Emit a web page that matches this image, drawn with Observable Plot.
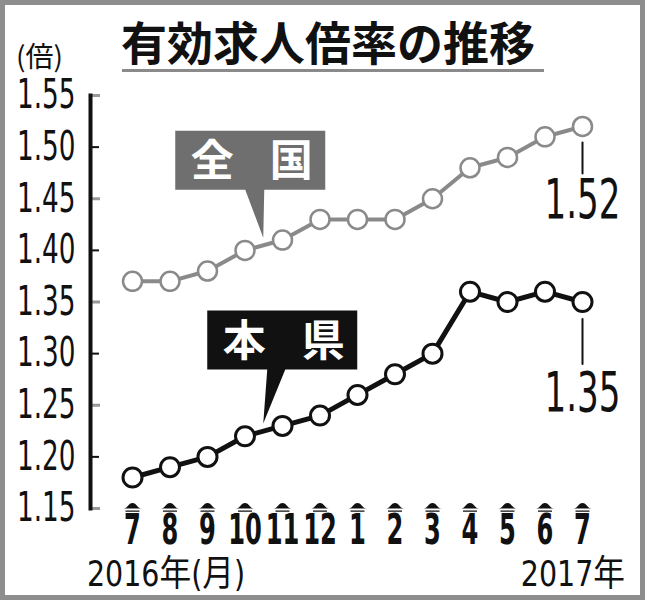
<!DOCTYPE html>
<html>
<head>
<meta charset="utf-8">
<script src="https://cdn.jsdelivr.net/npm/d3@7"></script>
<script src="https://cdn.jsdelivr.net/npm/@observablehq/plot@0.6"></script>
<style>
  body { margin: 0; background: #fff; }
  #wrap { position: relative; width: 645px; height: 600px; overflow: hidden; background: #fff; }
  #wrap svg { position: absolute; left: 0; top: 0; }
  #border { position: absolute; left: 0; top: 0; width: 645px; height: 600px; box-sizing: border-box; border: 5px solid #8e8e8e; pointer-events: none; }
</style>
</head>
<body>
<div id="wrap"><div id="border"></div></div>
<script>
// ---- data ----
const title = "有効求人倍率の推移";
const unitLabel = "(倍)";
const months = ["7", "8", "9", "10", "11", "12", "1", "2", "3", "4", "5", "6", "7"];
const startYearLabel = "2016年(月)";
const endYearLabel = "2017年";
const seriesNames = ["全国", "本県"];
const national = [1.37, 1.37, 1.38, 1.40, 1.41, 1.43, 1.43, 1.43, 1.45, 1.48, 1.49, 1.51, 1.52];
const prefecture = [1.18, 1.19, 1.20, 1.22, 1.23, 1.24, 1.26, 1.28, 1.30, 1.36, 1.35, 1.36, 1.35];
const yTicks = [1.15, 1.20, 1.25, 1.30, 1.35, 1.40, 1.45, 1.50, 1.55];

// ---- table built from the arrays ----
const rows = months.map((m, i) => ({i, m, national: national[i], prefecture: prefecture[i]}));
const last = [rows[rows.length - 1]];
const grayTicks = yTicks.filter((d, k) => k % 2 === 0);
const blackTicks = yTicks.filter((d, k) => k % 2 === 1);

const numFont = "'DejaVu Sans Condensed', 'DejaVu Sans', sans-serif";
const cjkFont = "'Noto Sans CJK JP', sans-serif";
const GRAY = "#8a8a8a";

const dome = {
  draw(ctx) {
    ctx.moveTo(-9, 0);
    ctx.bezierCurveTo(-5, 0, -4, -5.5, 0, -5.5);
    ctx.bezierCurveTo(4, -5.5, 5, 0, 9, 0);
    ctx.closePath();
    ctx.rect(-7, 2, 14, 1.3);
  }
};
const leader = { draw(ctx, l) { ctx.moveTo(0, 0); ctx.lineTo(0, -l); } };

const plot = Plot.plot({
  width: 645,
  height: 600,
  marginTop: 95,
  marginBottom: 92,
  marginLeft: 90,
  marginRight: 63,
  x: {type: "linear", domain: [-1.12, 12], axis: null},
  y: {domain: [1.15, 1.55], axis: null},
  style: {background: "transparent"},
  marks: [
    // y axis labels
    Plot.axisY(yTicks, {anchor: "left", tickSize: 0, tickPadding: 15, label: null,
      tickFormat: d3.format(".2f"), fontSize: 40, fontFamily: numFont, fill: "#111"}),
    Plot.axisY(grayTicks, {anchor: "left", tickSize: -10, label: null, fill: "none", stroke: "#999", strokeWidth: 3}),
    Plot.axisY(blackTicks, {anchor: "left", tickSize: -9, label: null, fill: "none", stroke: "#111", strokeWidth: 2}),
    Plot.frame({anchor: "left", stroke: "#111", strokeWidth: 4}),
    // x axis labels
    Plot.axisX(rows.map(d => d.i), {anchor: "bottom", tickSize: 0, tickPadding: 6, label: null,
      tickFormat: i => months[i], fontSize: 42, fontWeight: "bold", fontFamily: numFont, fill: "#111"}),
    Plot.dot(rows, {x: "i", frameAnchor: "bottom", dy: 0, symbol: dome, r: 9, fill: "#111", stroke: "none"}),
    // national
    Plot.line(rows, {x: "i", y: "national", stroke: GRAY, strokeWidth: 4}),
    Plot.dot(rows, {x: "i", y: "national", r: 9.5, fill: "white", stroke: GRAY, strokeWidth: 2.5}),
    // prefecture
    Plot.line(rows, {x: "i", y: "prefecture", stroke: "#111", strokeWidth: 5}),
    Plot.dot(rows, {x: "i", y: "prefecture", r: 9.5, fill: "white", stroke: "#111", strokeWidth: 3}),
    // end leaders and values
    Plot.vector(last, {x: "i", y: "national", length: 31, rotate: 180, anchor: "start", shape: leader,
      dy: 16, stroke: "#111", strokeWidth: 2}),
    Plot.text(last, {x: "i", y: "national", text: d => d3.format(".2f")(d.national), dy: 74,
      fontSize: 55, fontFamily: numFont, fill: "#111"}),
    Plot.vector(last, {x: "i", y: "prefecture", length: 45, rotate: 180, anchor: "start", shape: leader,
      dy: 17, stroke: "#111", strokeWidth: 2}),
    Plot.text(last, {x: "i", y: "prefecture", text: d => d3.format(".2f")(d.prefecture), dy: 91,
      fontSize: 55, fontFamily: numFont, fill: "#111"})
  ]
});

document.getElementById("wrap").insertBefore(plot, document.getElementById("border"));

// condense narrow-figure texts horizontally (keeps each text's anchor point)
function squeeze(selection, k) {
  selection.each(function () {
    const t = this.getAttribute("transform");
    if (t) {
      this.setAttribute("transform", t + ` scale(${k},1)`);
    } else {
      const x = +this.getAttribute("x") || 0, y = +this.getAttribute("y") || 0;
      this.removeAttribute("x"); this.removeAttribute("y");
      this.setAttribute("transform", `translate(${x},${y}) scale(${k},1)`);
    }
  });
}
const svg = d3.select(plot);
squeeze(svg.selectAll('g[aria-label="y-axis tick label"] text'), 0.73);
squeeze(svg.selectAll('g[aria-label="x-axis tick label"] text'), 0.64);
squeeze(svg.selectAll('g[aria-label="text"] text'), 0.69);

// ---- annotations using the plot's scales ----
const sx = plot.scale("x"), sy = plot.scale("y");
const g = svg.append("g").attr("text-anchor", "start");

// title
g.append("text").attr("x", 121).attr("y", 60).attr("font-family", cjkFont).attr("font-weight", 700)
  .attr("font-size", 46).attr("fill", "#111").text(title);
g.append("line").attr("x1", 122).attr("x2", 544).attr("y1", 70.5).attr("y2", 70.5)
  .attr("stroke", "#8a8a8a").attr("stroke-width", 3);
// unit
g.append("text").attr("x", 16).attr("y", 67).attr("font-family", cjkFont).attr("font-size", 28)
  .attr("fill", "#111").text(unitLabel);
// year labels
const y1 = g.append("text").attr("x", 87).attr("y", 586).attr("font-family", numFont + ", " + cjkFont)
  .attr("font-size", 36).attr("fill", "#111").text(startYearLabel);
const y2 = g.append("text").attr("x", 625).attr("y", 586).attr("text-anchor", "end")
  .attr("font-family", numFont + ", " + cjkFont).attr("font-size", 36).attr("fill", "#111").text(endYearLabel);
squeeze(y1, 0.88);
squeeze(y2, 0.88);

// callouts pointing at the segment between 10月 and 11月
function callout(name, key, fill, box, base) {
  const tx = sx.apply(3.5);
  const ty = sy.apply((rows[3][key] + rows[4][key]) / 2) - 7;
  const bx = tx + box[0], by = ty + box[1], bw = 150, bh = 59;
  g.append("path")
    .attr("d", `M${bx},${by}H${bx + bw}V${by + bh}H${tx + base[1]}L${tx},${ty}L${tx + base[0]},${by + bh}H${bx}Z`)
    .attr("fill", fill);
  const chars = Array.from(name);
  [37, 116].forEach((off, k) => {
    g.append("text").attr("x", bx + off).attr("y", by + bh / 2).attr("dy", "0.36em").attr("text-anchor", "middle")
      .attr("font-family", cjkFont).attr("font-weight", 700).attr("font-size", 43).attr("fill", "white").text(chars[k]);
  });
}
callout(seriesNames[0], "national", "#6f6f6f", [-88, -107], [-18, 1]);
callout(seriesNames[1], "prefecture", "#111", [-56, -113], [4, 22]);
</script>
</body>
</html>
